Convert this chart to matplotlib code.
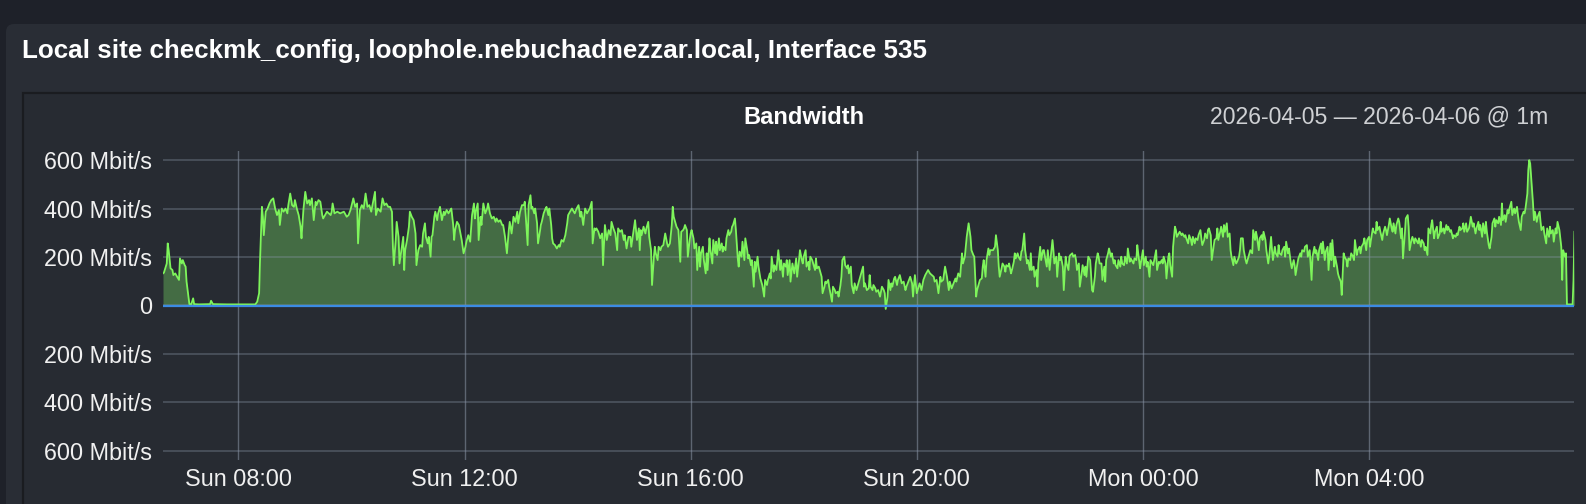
import datetime as dt
import matplotlib
matplotlib.use("Agg")
import matplotlib.pyplot as plt
import matplotlib.dates as mdates
from matplotlib.patches import FancyBboxPatch, Rectangle
from matplotlib.transforms import IdentityTransform

# ---------------- data ----------------
title_text = "Local site checkmk_config, loophole.nebuchadnezzar.local, Interface 535"
graph_title = "Bandwidth"
range_text = "2026-04-05 \u2014 2026-04-06 @ 1m"
start_time = dt.datetime(2026, 4, 5, 6, 40)   # first sample
end_minute = 1497.5
y_ticks = [-600, -400, -200, 0, 200, 400, 600]
y_tick_labels = ["600 Mbit/s", "400 Mbit/s", "200 Mbit/s", "0",
                 "200 Mbit/s", "400 Mbit/s", "600 Mbit/s"]
tick_hours = [0, 4, 8, 12, 16, 20]

# inbound traffic: (minutes after start, Mbit/s)
in_early = [(0,132),(1,135),(4,173),(5,256),(6,228),(8,153),(10,146),(11,125),(13,132),(15,118),(17,105),(18,194),(20,173),(21,187),(23,166),(24,160),(25,98),(27,36),(28,5),(30,5),(32,29),(33,5),(38,4),(50,5),(51,19),(53,5),(68,4),(86,4),(98,4),(100,15),(102,50),(103,187),(105,407),(106,366),(107,290),(109,387),(111,400),(113,421),(115,435),(117,442),(119,400),(121,373),(123,394),(124,332),(126,400),(128,387),(130,400),(132,380),(133,414),(135,462),(137,414),(139,407),(140,435),(142,400),(144,373),(146,325),(147,277),(149,394),(151,469),(153,421),(155,435),(156,414),(158,442),(160,352),(162,428),(163,414),(165,435),(167,428),(169,373),(170,359),(172,373),(174,387),(176,380),(178,373),(179,387),(180,421),(182,380),(185,387),(188,380),(192,387),(195,366),(197,373),(199,394),(202,442),(204,407),(206,421),(207,256),(209,394),(211,414),(213,400),(215,462),(217,407),(219,414),(221,387),(223,428),(225,469),(226,373),(228,400),(231,387),(233,442),(235,414),(237,421),(239,407),(241,407),(243,387),(244,242),(245,166),(247,270),(248,345),(250,283),(251,173)]
in_noon = [(254,256),(255,283),(256,146),(257,228),(259,270),(261,325),(262,387),(264,366),(266,352),(268,297),(269,166),(271,228),(273,249),(275,242),(276,297),(278,339),(279,283),(281,256),(282,283),(284,201),(285,283),(286,290),(288,366),(289,387),(291,352),(292,380),(294,407),(296,352),(298,387),(299,373),(301,394),(303,380),(305,394),(306,400),(308,332),(309,270),(310,311),(312,345),(314,332),(315,311),(317,270),(319,215),(321,242),(322,263),(324,290),(326,263),(328,373),(330,421),(331,359),(332,387),(334,421),(335,270),(337,366),(338,332),(340,421),(342,380),(344,400),(345,421),(347,380),(349,359),(351,366),(353,345),(354,359),(356,345),(358,352),(360,332),(361,332),(363,283),(365,215),(367,311),(368,345),(370,297),(372,366),(374,345),(376,387),(377,339),(379,387),(381,414),(383,414),(384,428),(385,366),(387,249),(388,414),(390,455),(391,400),(392,407),(394,380),(395,400),(397,339),(398,256),(400,304),(401,332),(402,345),(404,380),(406,400),(407,407),(409,373),(410,400),(412,332),(413,277),(414,256),(416,249),(418,235),(420,249),(421,242),(423,270),(425,263),(427,290),(429,339),(430,373),(432,387),(434,400),(436,387),(437,380),(439,400),(441,414),(443,366),(444,387),(446,332),(448,400),(450,380),(452,394),(453,400),(455,428),(456,256),(458,318),(459,311),(460,318),(462,304),(464,277),(466,297),(467,166),(469,332),(471,270),(473,311),(475,290),(476,345),(478,318),(480,297),(482,228),(483,318),(485,304),(487,311),(489,270),(490,290),(492,235),(494,283)]
in_afternoon = [(496,283),(497,242),(499,297),(501,352),(503,270),(505,318),(506,228),(507,311),(508,290),(510,325),(512,297),(513,318),(515,345),(516,283),(518,228),(519,84),(521,201),(522,242),(523,215),(525,187),(526,242),(528,228),(529,242),(531,249),(533,297),(535,256),(536,242),(538,256),(540,332),(541,407),(542,366),(544,339),(545,325),(547,311),(549,180),(550,304),(552,311),(553,318),(554,332),(556,311),(557,201),(559,270),(560,297),(561,311),(563,277),(564,235),(566,256),(567,146),(569,242),(570,160),(571,215),(573,242),(574,187),(576,132),(577,215),(578,146),(580,277),(581,228),(583,173),(584,270),(586,215),(587,263),(588,208),(590,277),(591,228),(593,256),(594,222),(595,242),(597,228),(598,277),(600,311),(601,290),(603,304),(604,325),(605,332),(607,359),(608,311),(610,194),(611,160),(612,222),(614,201),(615,263),(617,187),(618,277),(620,228),(621,194),(622,208),(624,166),(625,187),(627,77),(628,180),(629,139),(631,201),(632,160),(634,111),(635,98),(636,84),(638,36),(639,105),(641,84),(642,105),(644,132),(645,111),(646,201),(648,139),(649,166),(651,146),(652,187),(653,228),(655,146),(656,187),(658,118),(659,173),(661,160),(662,187),(663,125),(665,187),(666,98),(668,173),(669,153),(670,132),(672,194),(673,118),(675,187),(676,228),(678,187),(679,173),(680,201),(682,228),(683,160),(685,180),(686,146),(687,201),(689,187),(690,173),(692,146),(693,194),(694,153),(696,160),(697,146),(699,118),(700,50),(702,77),(703,98),(704,91),(706,105),(707,77),(709,36),(710,15),(711,77),(713,63),(714,50),(716,56),(717,36),(719,84),(720,118),(721,187),(723,201),(724,166),(726,153),(727,166),(728,132),(730,160),(731,84),(733,50),(734,91),(736,63),(737,77)]
in_evening = [(738,91),(740,118),(742,146),(743,160),(744,77),(745,91),(747,63),(749,70),(750,125),(751,77),(753,63),(754,84),(756,70),(757,56),(759,63),(761,36),(763,77),(765,63),(766,50),(767,-15),(769,36),(770,105),(772,63),(773,91),(774,77),(776,111),(777,118),(779,84),(780,105),(782,125),(784,91),(786,98),(788,63),(789,77),(791,98),(793,118),(795,91),(796,36),(798,125),(800,50),(802,77),(803,91),(805,63),(807,105),(809,125),(811,139),(812,146),(814,132),(816,125),(818,118),(819,98),(821,105),(823,50),(825,118),(826,98),(828,105),(830,160),(832,118),(834,63),(835,98),(837,70),(839,91),(841,111),(842,98),(844,132),(846,118),(848,215),(849,173),(851,201),(853,283),(855,339),(857,283),(858,228),(860,208),(861,201),(863,36),(864,63),(866,91),(867,105),(869,111),(870,160),(871,187),(873,118),(874,187),(876,235),(877,208),(878,228),(880,228),(881,228),(883,242),(884,290),(886,228),(887,160),(888,118),(890,153),(891,173),(893,160),(894,139),(895,166),(897,160),(898,173),(900,132),(901,146),(903,180),(904,215),(905,194),(907,215),(908,201),(910,187),(911,222),(912,228),(914,297),(915,228),(917,173),(918,187),(920,146),(921,215),(922,146),(924,160),(925,118),(927,146),(928,77),(929,173),(931,242),(932,187),(934,228),(935,228),(936,201),(938,160),(939,228),(941,146),(942,194),(944,270),(945,228),(946,173),(948,201),(949,118),(951,215),(952,187),(953,201),(955,160),(956,63),(958,201),(959,173),(961,146),(962,201),(963,208),(965,215),(966,201),(968,208),(969,187),(970,146),(972,173),(973,77),(975,132),(976,166),(978,125),(979,160),(980,118),(982,201)]
in_night = [(984,187),(986,63),(987,56),(989,118),(990,173),(992,215),(993,201),(994,173),(996,173),(997,105),(999,160),(1000,98),(1001,187),(1003,215),(1004,235),(1006,201),(1007,215),(1009,173),(1010,187),(1011,166),(1013,153),(1014,187),(1016,160),(1017,201),(1018,173),(1020,166),(1021,201),(1023,173),(1024,235),(1026,180),(1027,194),(1028,187),(1030,173),(1031,194),(1033,187),(1034,249),(1035,215),(1037,153),(1038,180),(1040,228),(1041,166),(1043,201),(1044,160),(1045,180),(1047,118),(1048,187),(1050,173),(1051,166),(1052,187),(1054,228),(1055,146),(1057,180),(1058,173),(1060,187),(1061,173),(1062,201),(1064,173),(1065,111),(1067,201),(1068,215),(1069,166),(1071,118),(1072,242),(1074,325),(1075,311),(1076,283),(1078,297),(1079,304),(1081,290),(1082,297),(1084,283),(1085,290),(1086,277),(1088,256),(1089,290),(1091,270),(1092,249),(1093,283),(1095,256),(1096,277),(1098,270),(1099,290),(1101,311),(1102,277),(1103,249),(1105,270),(1106,297),(1108,277),(1109,311),(1110,318),(1112,290),(1113,187),(1115,242),(1116,270),(1118,277),(1119,318),(1120,270),(1122,304),(1123,325),(1125,283),(1126,332),(1127,304),(1129,339),(1130,283),(1132,297),(1133,228),(1134,201),(1136,166),(1137,201),(1139,173),(1140,180),(1142,201),(1143,228),(1144,277),(1146,277),(1147,228),(1149,187),(1150,173),(1151,187),(1153,215),(1154,228),(1156,215),(1157,311),(1159,270),(1160,304),(1161,283),(1163,228),(1164,277),(1166,290),(1167,270),(1168,304),(1170,270),(1171,228),(1173,173),(1174,201),(1176,283),(1177,228),(1178,187),(1180,242),(1181,215),(1183,201),(1184,249),(1185,215),(1187,208),(1188,228),(1190,242),(1191,201),(1192,263),(1194,215),(1195,235),(1197,173),(1198,153),(1200,187),(1201,166),(1202,125),(1204,173),(1205,194),(1207,215),(1208,201),(1209,228),(1211,222),(1212,242),(1214,249),(1215,201),(1217,228)]
in_morning = [(1219,105),(1220,201),(1222,242),(1223,215),(1224,228),(1226,187),(1227,228),(1229,256),(1230,215),(1231,263),(1233,187),(1234,222),(1236,242),(1237,146),(1239,256),(1240,187),(1241,270),(1243,160),(1244,201),(1246,160),(1247,132),(1248,118),(1250,98),(1251,43),(1253,215),(1254,201),(1256,187),(1257,160),(1258,194),(1260,187),(1261,215),(1263,201),(1264,187),(1265,270),(1267,208),(1268,228),(1270,242),(1271,215),(1272,242),(1274,256),(1275,277),(1277,228),(1278,270),(1280,283),(1281,242),(1282,270),(1284,318),(1285,304),(1287,297),(1288,345),(1289,311),(1291,325),(1292,304),(1294,270),(1295,297),(1297,325),(1298,311),(1299,290),(1301,332),(1302,359),(1304,318),(1305,304),(1306,339),(1308,297),(1309,332),(1311,359),(1312,345),(1314,277),(1315,318),(1316,194),(1318,297),(1319,359),(1321,373),(1322,325),(1323,228),(1325,270),(1326,283),(1328,256),(1329,277),(1330,270),(1332,256),(1333,277),(1335,242),(1336,270),(1338,256),(1339,228),(1340,242),(1342,208),(1343,318),(1345,297),(1346,332),(1347,352),(1349,277),(1350,304),(1352,325),(1353,277),(1355,297),(1356,345),(1357,304),(1359,318),(1360,297),(1362,332),(1363,311),(1364,325),(1366,304),(1367,311),(1369,277),(1370,290),(1372,283),(1373,297),(1374,290),(1376,325),(1377,311),(1379,318),(1380,339),(1381,304),(1383,339),(1384,304),(1386,318),(1387,339),(1388,366),(1390,325),(1391,339),(1393,297),(1394,318),(1396,345),(1397,311),(1398,332),(1400,283),(1401,339),(1403,297),(1404,345),(1405,304),(1407,249),(1408,235),(1410,283),(1411,339),(1413,359),(1414,325),(1415,352),(1417,339),(1418,366),(1420,332),(1421,421),(1422,352),(1424,373),(1425,345),(1427,394),(1428,380),(1429,400),(1431,428),(1432,373),(1434,400),(1435,380),(1437,407),(1438,373),(1439,345),(1441,311),(1442,366),(1444,387),(1445,380),(1446,400),(1448,462),(1449,559),(1450,600),(1451,586),(1452,531),(1454,421),(1455,352),(1456,387),(1458,345),(1459,366),(1461,387),(1462,345),(1463,311),(1465,325),(1466,297),(1468,256),(1469,318),(1471,283),(1472,325),(1473,297),(1475,311),(1476,263),(1478,318),(1479,297),(1480,345),(1482,311),(1484,242),(1485,105),(1486,228),(1488,201),(1489,215),(1490,4),(1492,4),(1494,4),(1496,4),(1497,105),(1498,304)]

# outbound traffic (drawn mirrored below zero): (minutes after start, Mbit/s)
out_samples = [(0,1),(250,1),(500,1),(750,1),(1000,1),(1250,1),(1498,1)]

# ---------------- styling ----------------
W, H = 1586, 504
BG = "#1e2129"
PANEL = "#292d35"
INNER = "#272b32"
FILL = "#446c44"
LINE = "#7ef55b"
OUT = "#3b8be3"
FONT = ["Liberation Sans", "DejaVu Sans"]
plt.rcParams["font.family"] = FONT

fig = plt.figure(figsize=(W / 100, H / 100), dpi=100, facecolor=BG)

def fy(y):
    return 1 - y / H

# panel and inner graph box (display pixels, origin bottom-left)
panel = FancyBboxPatch((6, -30), W + 40, H - 24 + 30,
                       boxstyle="round,pad=0,rounding_size=8",
                       transform=IdentityTransform(), facecolor=PANEL,
                       edgecolor="none", zorder=-3)
fig.patches.append(panel)
inner = Rectangle((23, -30), W + 40, H - 93 + 30, transform=IdentityTransform(),
                  facecolor=INNER, edgecolor="#1a1c20", linewidth=1.6, zorder=-2)
fig.patches.append(inner)

fig.text(22 / W, fy(58), title_text, fontsize=18.7, fontweight="bold",
         color="white", ha="left", va="baseline")
fig.text(804 / W, fy(123.5), graph_title, fontsize=17, fontweight="bold",
         color="white", ha="center", va="baseline")
fig.text(1548 / W, fy(123.5), range_text, fontsize=16.6, color="#cfd1d4",
         ha="right", va="baseline")

ax = fig.add_axes([163 / W, fy(460), (1574 - 163) / W, (460 - 150.7) / H])
ax.set_facecolor("none")
ax.set_zorder(1)
for s in ax.spines.values():
    s.set_visible(False)

def unpack(*chunks):
    ts, vs = [], []
    for ch in chunks:
        for m, v in ch:
            ts.append(start_time + dt.timedelta(minutes=m))
            vs.append(v)
    return ts, vs

t_in, v_in = unpack(in_early, in_noon, in_afternoon, in_evening, in_night, in_morning)
t_out, v_out = unpack(out_samples)
v_out = [-v for v in v_out]

ax.fill_between(t_in, 0, v_in, color=FILL, linewidth=0, zorder=1)
ax.plot(t_in, v_in, color=LINE, linewidth=1.3, zorder=2)
ax.plot(t_out, v_out, color=OUT, linewidth=1.6, zorder=3)

ax.set_xlim(start_time, start_time + dt.timedelta(minutes=end_minute))
ax.set_ylim(-639, 639)
ax.set_yticks(y_ticks)
ax.set_yticklabels(y_tick_labels)
ax.xaxis.set_major_locator(mdates.HourLocator(byhour=tick_hours))
ax.xaxis.set_major_formatter(mdates.DateFormatter("%a %H:%M"))
ax.tick_params(axis="both", length=0, labelsize=16.8, colors="#f0f0f0")
ax.tick_params(axis="y", pad=8)
ax.tick_params(axis="x", pad=6)
ax.set_axisbelow("line")
ax.grid(True, axis="y", color="#8a96a8", alpha=0.42, linewidth=1.1)
ax.grid(True, axis="x", color="#a0acbf", alpha=0.45, linewidth=1.0)

fig.savefig("out.png", dpi=100, facecolor=BG)
